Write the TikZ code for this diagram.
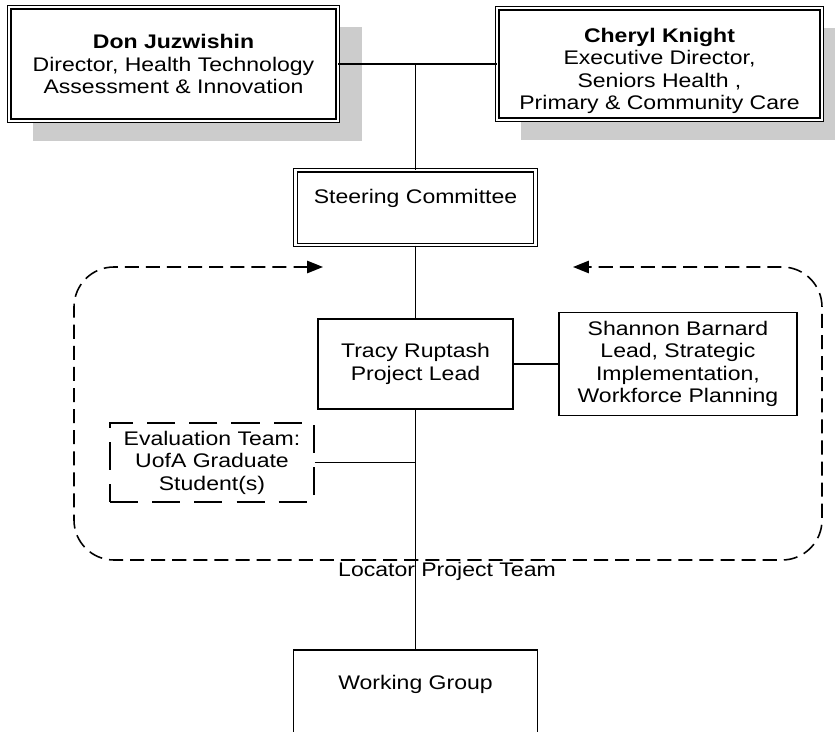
\documentclass[tikz,border=0pt]{standalone}
\usepackage{fontspec}
\setmainfont{Liberation Sans}[FakeStretch=1.17]
\usepackage{xcolor}
\definecolor{shadowgrey}{RGB}{204,204,204}
\usetikzlibrary{positioning,shadows,arrows.meta}

\begin{document}
\begin{tikzpicture}[
        font=\fontsize{11.2}{12.8}\selectfont,
        chief/.style={draw, double, line width=0.7pt, double distance=1.2pt, fill=white, align=center,
            drop shadow={shadow xshift=0.48cm, shadow yshift=-0.4cm, fill=shadowgrey, opacity=1}},
        committee/.style={draw, double, line width=0.7pt, double distance=1.2pt, fill=white, align=center},
        member/.style={draw, line width=1.1pt, fill=white, align=center},
        evalbox/.style={draw, line width=1.1pt, dash pattern=on 16pt off 8pt, fill=white, align=center},
        teamline/.style={line width=0.9pt, dash pattern=on 8pt off 4pt, rounded corners=0.8cm},
        link/.style={line width=1.1pt}
    ]
        \useasboundingbox (0,0) rectangle (16.7,-14.64);

        \node[chief, minimum width=6.57cm, minimum height=2.27cm] (don) at (3.47,-1.28)
            {\textbf{Don Juzwishin}\\Director, Health Technology\\Assessment \& Innovation};
        \node[chief, minimum width=6.49cm, minimum height=2.22cm] (cheryl) at (13.19,-1.28)
            {\rule{0pt}{16pt}\textbf{Cheryl Knight}\\Executive Director,\\Seniors Health ,\\Primary \& Community Care};

        \node[member, minimum width=3.9cm, minimum height=1.8cm] (tracy) at (8.31,-7.28) {Tracy Ruptash\\Project Lead};
        \node[committee, minimum width=4.8cm, minimum height=1.49cm, above=1.45cm of tracy] (steering) {Steering Committee\\\mbox{}};
        \node[member, minimum width=4.76cm, minimum height=2.06cm, right=0.88cm of tracy] (shannon)
            {Shannon Barnard\\Lead, Strategic\\Implementation,\\Workforce Planning};
        \node[evalbox, minimum width=4.08cm, minimum height=1.58cm] (eval) at (4.24,-9.25)
            {Evaluation Team:\\UofA Graduate\\Student(s)};
        \node[member, minimum width=4.88cm, minimum height=1.76cm, below=4.78cm of tracy] (working) {Working Group\\\mbox{}};
        \node (team) at (8.94,-11.42) {Locator Project Team};

        % team frame with the two arrows on top
        \draw[teamline, {Triangle[length=9pt,width=7pt]}-{Triangle[length=9pt,width=7pt]}]
            (6.46,-5.34) -- (1.48,-5.34) -- (1.48,-11.2) -- (16.44,-11.2) -- (16.44,-5.34) -- (11.46,-5.34);

        \draw[link] (don.east) -| (steering.north);
        \draw[link] (cheryl.west) -- (cheryl.west -| steering.north);
        \draw[link] (steering.south) -- (tracy.north);
        \draw[link] (tracy.east) -- (shannon.west);
        \draw[link] (tracy.south) -- (working.north);
        \draw[link] (eval.east) -- (eval.east -| tracy.south);
    \end{tikzpicture}
\end{document}
